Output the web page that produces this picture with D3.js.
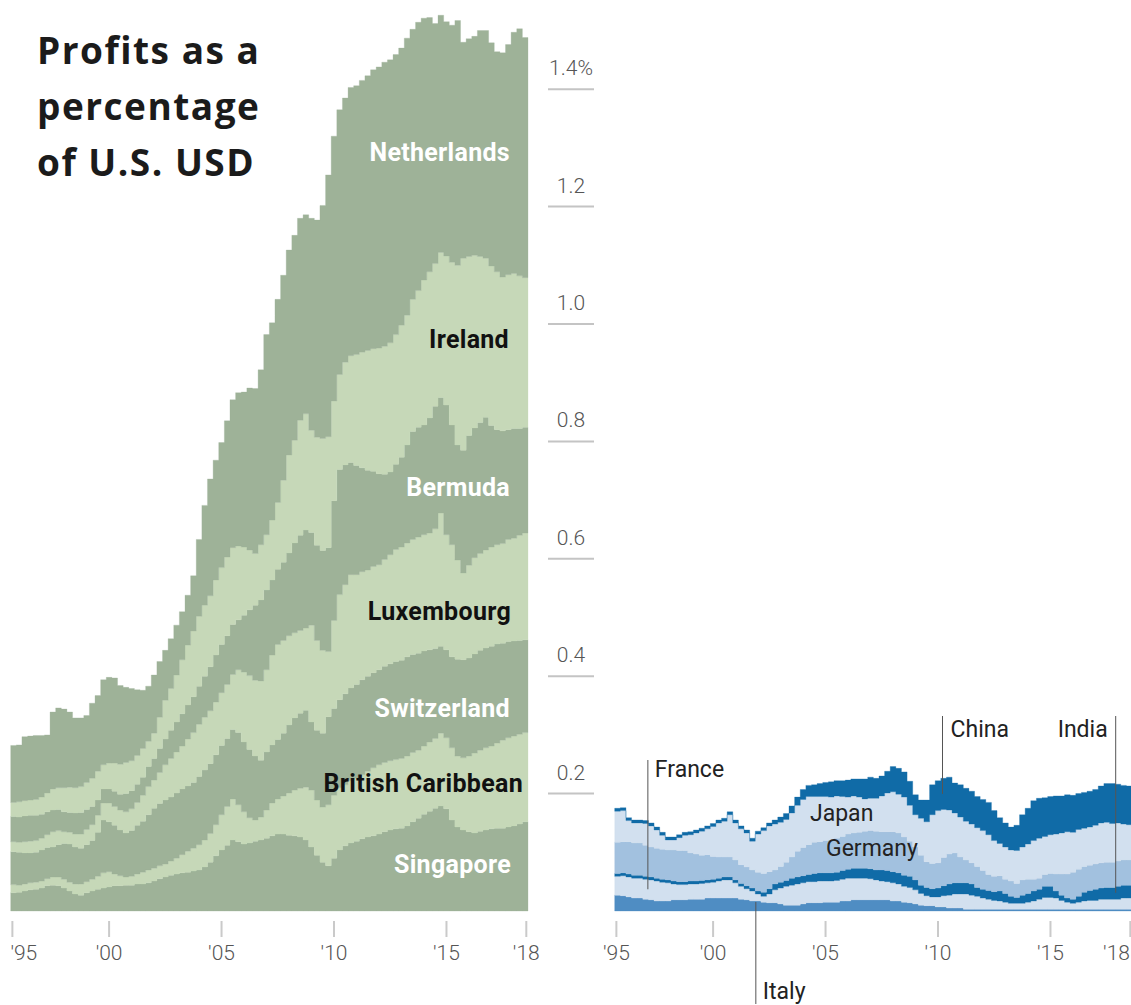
<!DOCTYPE html>
<html>
<head>
<meta charset="utf-8">
<script src="https://cdn.jsdelivr.net/npm/d3@7"></script>
<style>
  body { margin: 0; background: #fff; }
  svg { display: block; }
</style>
</head>
<body>
<svg id="chart" width="1131" height="1005"></svg>
<script>
// quarterly readings, mid 1995 to mid 2018, % of U.S. GDP
const firstQuarter = 1995.625;
const quarterCount = 92;
const lastQuarter = firstQuarter + quarterCount * 0.25;
const quarters = d3.range(quarterCount).map(k => firstQuarter + k * 0.25);

const havenNames = ["Singapore", "British Caribbean", "Switzerland", "Luxembourg", "Bermuda", "Ireland", "Netherlands"];
const countryNames = ["Italy", "France", "India", "Germany", "Japan", "China"];

const yTicks = [0.2, 0.4, 0.6, 0.8, 1.0, 1.2, 1.4];
const xTickYears = [1995.7, 2000, 2005, 2010, 2015, 2018.55];
const xTickLabels = ["'95", "'00", "'05", "'10", "'15", "'18"];

const singapore = [
  0.031, 0.032, 0.034, 0.036, 0.037, 0.039, 0.043, 0.044, 0.043, 0.039, 0.034, 0.029,
  0.027, 0.031, 0.034, 0.037, 0.039, 0.041, 0.043, 0.043, 0.044, 0.044, 0.046, 0.046,
  0.048, 0.051, 0.055, 0.058, 0.061, 0.063, 0.065, 0.066, 0.068, 0.070, 0.075, 0.083,
  0.094, 0.104, 0.112, 0.121, 0.118, 0.114, 0.116, 0.119, 0.121, 0.124, 0.128, 0.131,
  0.131, 0.129, 0.128, 0.126, 0.121, 0.109, 0.095, 0.083, 0.077, 0.090, 0.104, 0.111,
  0.116, 0.119, 0.123, 0.126, 0.128, 0.131, 0.135, 0.138, 0.140, 0.141, 0.145, 0.152,
  0.158, 0.165, 0.170, 0.175, 0.179, 0.174, 0.155, 0.143, 0.138, 0.135, 0.133, 0.136,
  0.138, 0.140, 0.141, 0.141, 0.143, 0.145, 0.148, 0.152
];
const britishCaribbean = [
  0.014, 0.012, 0.012, 0.012, 0.012, 0.012, 0.012, 0.014, 0.015, 0.015, 0.015, 0.017,
  0.019, 0.019, 0.020, 0.022, 0.026, 0.026, 0.020, 0.017, 0.014, 0.015, 0.017, 0.020,
  0.022, 0.022, 0.022, 0.022, 0.024, 0.027, 0.031, 0.036, 0.039, 0.043, 0.046, 0.049,
  0.053, 0.060, 0.066, 0.070, 0.063, 0.055, 0.043, 0.036, 0.039, 0.048, 0.056, 0.060,
  0.065, 0.072, 0.078, 0.083, 0.090, 0.097, 0.094, 0.094, 0.104, 0.107, 0.106, 0.104,
  0.106, 0.107, 0.109, 0.112, 0.116, 0.118, 0.118, 0.118, 0.118, 0.119, 0.119, 0.118,
  0.116, 0.116, 0.118, 0.119, 0.124, 0.121, 0.123, 0.121, 0.123, 0.129, 0.136, 0.138,
  0.140, 0.141, 0.145, 0.150, 0.152, 0.153, 0.153, 0.152
];
const switzerland = [
  0.056, 0.056, 0.053, 0.051, 0.051, 0.053, 0.053, 0.051, 0.055, 0.061, 0.065, 0.063,
  0.061, 0.063, 0.066, 0.075, 0.090, 0.085, 0.083, 0.078, 0.075, 0.078, 0.083, 0.087,
  0.094, 0.102, 0.106, 0.109, 0.109, 0.111, 0.112, 0.111, 0.112, 0.116, 0.119, 0.119,
  0.119, 0.118, 0.116, 0.118, 0.123, 0.119, 0.116, 0.109, 0.097, 0.099, 0.099, 0.101,
  0.107, 0.116, 0.123, 0.128, 0.131, 0.116, 0.119, 0.126, 0.150, 0.148, 0.150, 0.155,
  0.158, 0.160, 0.162, 0.162, 0.162, 0.162, 0.164, 0.165, 0.167, 0.167, 0.169, 0.167,
  0.165, 0.162, 0.157, 0.153, 0.148, 0.150, 0.155, 0.165, 0.167, 0.167, 0.169, 0.170,
  0.170, 0.170, 0.169, 0.165, 0.164, 0.162, 0.160, 0.158
];
const luxembourg = [
  0.017, 0.017, 0.019, 0.020, 0.020, 0.020, 0.022, 0.026, 0.024, 0.020, 0.020, 0.022,
  0.024, 0.026, 0.027, 0.029, 0.029, 0.032, 0.032, 0.034, 0.036, 0.037, 0.039, 0.044,
  0.048, 0.048, 0.053, 0.060, 0.066, 0.070, 0.073, 0.080, 0.085, 0.089, 0.090, 0.090,
  0.090, 0.090, 0.092, 0.094, 0.107, 0.119, 0.126, 0.129, 0.135, 0.140, 0.153, 0.162,
  0.158, 0.152, 0.145, 0.141, 0.140, 0.165, 0.153, 0.141, 0.111, 0.150, 0.179, 0.186,
  0.193, 0.187, 0.184, 0.181, 0.181, 0.179, 0.182, 0.186, 0.191, 0.193, 0.194, 0.196,
  0.198, 0.198, 0.199, 0.204, 0.227, 0.196, 0.191, 0.169, 0.148, 0.158, 0.164, 0.165,
  0.167, 0.169, 0.169, 0.170, 0.174, 0.175, 0.179, 0.182
];
const bermuda = [
  0.043, 0.043, 0.044, 0.044, 0.043, 0.041, 0.039, 0.037, 0.036, 0.034, 0.034, 0.036,
  0.037, 0.034, 0.031, 0.026, 0.024, 0.024, 0.026, 0.027, 0.031, 0.031, 0.031, 0.031,
  0.034, 0.037, 0.041, 0.044, 0.048, 0.051, 0.055, 0.058, 0.061, 0.065, 0.070, 0.075,
  0.080, 0.082, 0.083, 0.085, 0.085, 0.097, 0.112, 0.128, 0.138, 0.136, 0.128, 0.128,
  0.133, 0.141, 0.153, 0.162, 0.167, 0.158, 0.162, 0.170, 0.177, 0.204, 0.213, 0.204,
  0.191, 0.186, 0.177, 0.170, 0.162, 0.155, 0.145, 0.141, 0.145, 0.153, 0.167, 0.184,
  0.187, 0.187, 0.196, 0.209, 0.197, 0.221, 0.204, 0.196, 0.209, 0.221, 0.221, 0.223,
  0.226, 0.207, 0.196, 0.192, 0.187, 0.187, 0.182, 0.180
];
const ireland = [
  0.024, 0.026, 0.026, 0.026, 0.027, 0.029, 0.032, 0.036, 0.037, 0.041, 0.043, 0.043,
  0.044, 0.046, 0.048, 0.049, 0.041, 0.044, 0.048, 0.051, 0.053, 0.051, 0.049, 0.049,
  0.043, 0.043, 0.053, 0.066, 0.071, 0.080, 0.092, 0.102, 0.112, 0.119, 0.121, 0.121,
  0.128, 0.131, 0.134, 0.131, 0.126, 0.116, 0.102, 0.088, 0.094, 0.094, 0.102, 0.114,
  0.140, 0.167, 0.175, 0.196, 0.198, 0.174, 0.184, 0.191, 0.189, 0.170, 0.162, 0.175,
  0.182, 0.189, 0.197, 0.204, 0.209, 0.214, 0.218, 0.220, 0.221, 0.225, 0.221, 0.225,
  0.233, 0.247, 0.249, 0.243, 0.247, 0.254, 0.277, 0.306, 0.327, 0.305, 0.294, 0.283,
  0.271, 0.272, 0.269, 0.262, 0.264, 0.264, 0.260, 0.255
];
const netherlands = [
  0.097, 0.097, 0.109, 0.109, 0.109, 0.105, 0.099, 0.131, 0.136, 0.134, 0.128, 0.119,
  0.117, 0.114, 0.128, 0.129, 0.145, 0.146, 0.145, 0.134, 0.128, 0.123, 0.112, 0.099,
  0.094, 0.099, 0.095, 0.085, 0.085, 0.085, 0.082, 0.085, 0.094, 0.131, 0.170, 0.199,
  0.204, 0.213, 0.232, 0.252, 0.261, 0.264, 0.276, 0.281, 0.298, 0.341, 0.336, 0.346,
  0.349, 0.349, 0.349, 0.344, 0.339, 0.361, 0.370, 0.397, 0.446, 0.451, 0.451, 0.450,
  0.457, 0.458, 0.463, 0.468, 0.475, 0.479, 0.484, 0.482, 0.477, 0.472, 0.472, 0.460,
  0.457, 0.446, 0.433, 0.409, 0.404, 0.399, 0.404, 0.417, 0.368, 0.371, 0.373, 0.385,
  0.388, 0.380, 0.375, 0.382, 0.392, 0.411, 0.421, 0.409
];

const italy = [
  0.027, 0.026, 0.024, 0.022, 0.022, 0.020, 0.019, 0.017, 0.017, 0.017, 0.019, 0.019,
  0.019, 0.020, 0.020, 0.020, 0.022, 0.022, 0.022, 0.022, 0.022, 0.022, 0.020, 0.019,
  0.017, 0.017, 0.015, 0.014, 0.014, 0.012, 0.010, 0.010, 0.010, 0.012, 0.014, 0.014,
  0.014, 0.015, 0.015, 0.015, 0.017, 0.017, 0.019, 0.019, 0.019, 0.019, 0.019, 0.019,
  0.019, 0.017, 0.017, 0.015, 0.014, 0.012, 0.010, 0.009, 0.009, 0.007, 0.007, 0.005,
  0.005, 0.005, 0.003, 0.003, 0.003, 0.003, 0.003, 0.003, 0.003, 0.003, 0.003, 0.003,
  0.003, 0.003, 0.003, 0.003, 0.003, 0.003, 0.003, 0.003, 0.003, 0.003, 0.003, 0.003,
  0.003, 0.003, 0.003, 0.003, 0.003, 0.003, 0.003, 0.003
];
const france = [
  0.032, 0.034, 0.034, 0.034, 0.034, 0.034, 0.034, 0.034, 0.032, 0.031, 0.027, 0.026,
  0.026, 0.026, 0.026, 0.027, 0.026, 0.027, 0.029, 0.031, 0.031, 0.026, 0.022, 0.019,
  0.017, 0.012, 0.010, 0.015, 0.022, 0.027, 0.032, 0.034, 0.036, 0.036, 0.036, 0.036,
  0.037, 0.036, 0.036, 0.037, 0.037, 0.039, 0.037, 0.037, 0.037, 0.036, 0.034, 0.032,
  0.031, 0.031, 0.029, 0.027, 0.026, 0.024, 0.020, 0.017, 0.015, 0.017, 0.019, 0.022,
  0.024, 0.024, 0.026, 0.024, 0.022, 0.019, 0.017, 0.015, 0.014, 0.012, 0.010, 0.010,
  0.010, 0.012, 0.014, 0.017, 0.020, 0.020, 0.019, 0.015, 0.012, 0.010, 0.012, 0.014,
  0.015, 0.015, 0.017, 0.017, 0.017, 0.017, 0.019, 0.019
];
const india = [
  0.005, 0.005, 0.005, 0.005, 0.005, 0.005, 0.005, 0.005, 0.005, 0.005, 0.005, 0.005,
  0.005, 0.005, 0.005, 0.005, 0.005, 0.005, 0.005, 0.005, 0.005, 0.005, 0.005, 0.005,
  0.005, 0.005, 0.007, 0.009, 0.010, 0.010, 0.010, 0.012, 0.012, 0.012, 0.012, 0.014,
  0.014, 0.014, 0.014, 0.014, 0.015, 0.015, 0.017, 0.017, 0.017, 0.017, 0.017, 0.019,
  0.019, 0.019, 0.019, 0.019, 0.019, 0.017, 0.014, 0.014, 0.014, 0.015, 0.017, 0.019,
  0.019, 0.019, 0.019, 0.019, 0.015, 0.015, 0.015, 0.015, 0.017, 0.015, 0.012, 0.010,
  0.014, 0.015, 0.017, 0.017, 0.019, 0.019, 0.012, 0.009, 0.007, 0.007, 0.010, 0.015,
  0.017, 0.019, 0.019, 0.020, 0.020, 0.022, 0.022, 0.022
];
const germany = [
  0.053, 0.053, 0.055, 0.055, 0.055, 0.053, 0.051, 0.051, 0.051, 0.051, 0.053, 0.053,
  0.053, 0.048, 0.046, 0.043, 0.043, 0.039, 0.036, 0.034, 0.034, 0.034, 0.032, 0.032,
  0.031, 0.032, 0.032, 0.029, 0.024, 0.027, 0.031, 0.036, 0.044, 0.048, 0.051, 0.053,
  0.053, 0.055, 0.056, 0.058, 0.058, 0.060, 0.060, 0.061, 0.063, 0.065, 0.066, 0.065,
  0.066, 0.068, 0.068, 0.065, 0.060, 0.056, 0.051, 0.044, 0.043, 0.043, 0.048, 0.051,
  0.051, 0.044, 0.039, 0.036, 0.036, 0.032, 0.027, 0.026, 0.026, 0.024, 0.026, 0.024,
  0.026, 0.024, 0.020, 0.019, 0.020, 0.022, 0.029, 0.036, 0.041, 0.046, 0.046, 0.044,
  0.043, 0.043, 0.043, 0.043, 0.043, 0.043, 0.043, 0.043
];
const japan = [
  0.053, 0.053, 0.036, 0.034, 0.034, 0.037, 0.036, 0.031, 0.024, 0.017, 0.017, 0.022,
  0.026, 0.031, 0.036, 0.041, 0.044, 0.051, 0.058, 0.061, 0.072, 0.063, 0.061, 0.058,
  0.049, 0.065, 0.073, 0.078, 0.078, 0.075, 0.073, 0.075, 0.078, 0.082, 0.082, 0.078,
  0.077, 0.075, 0.073, 0.072, 0.068, 0.063, 0.063, 0.060, 0.055, 0.055, 0.056, 0.061,
  0.066, 0.068, 0.066, 0.068, 0.061, 0.055, 0.063, 0.068, 0.083, 0.089, 0.082, 0.075,
  0.068, 0.068, 0.066, 0.066, 0.066, 0.068, 0.068, 0.061, 0.055, 0.055, 0.053, 0.056,
  0.056, 0.060, 0.066, 0.068, 0.065, 0.066, 0.068, 0.070, 0.072, 0.068, 0.068, 0.065,
  0.065, 0.066, 0.068, 0.068, 0.066, 0.065, 0.061, 0.060
];
const china = [
  0.005, 0.005, 0.005, 0.005, 0.005, 0.005, 0.005, 0.005, 0.005, 0.005, 0.005, 0.005,
  0.005, 0.005, 0.005, 0.005, 0.005, 0.005, 0.005, 0.005, 0.005, 0.005, 0.005, 0.005,
  0.005, 0.005, 0.005, 0.005, 0.007, 0.009, 0.010, 0.012, 0.014, 0.017, 0.019, 0.020,
  0.022, 0.024, 0.026, 0.026, 0.027, 0.029, 0.029, 0.031, 0.034, 0.036, 0.034, 0.034,
  0.037, 0.043, 0.044, 0.043, 0.041, 0.034, 0.031, 0.037, 0.051, 0.051, 0.053, 0.056,
  0.051, 0.055, 0.056, 0.056, 0.053, 0.053, 0.055, 0.051, 0.044, 0.041, 0.039, 0.043,
  0.055, 0.061, 0.068, 0.068, 0.066, 0.065, 0.065, 0.063, 0.063, 0.063, 0.061, 0.061,
  0.061, 0.061, 0.063, 0.066, 0.068, 0.066, 0.066, 0.066
];

const havenSeries = [singapore, britishCaribbean, switzerland, luxembourg, bermuda, ireland, netherlands];
const countrySeries = [italy, france, india, germany, japan, china];

// ---- layout
const width = 1131;
const darkGreen = "#9eb298", lightGreen = "#c6d8b8";
const havenColors = [darkGreen, lightGreen, darkGreen, lightGreen, darkGreen, lightGreen, darkGreen];
const countryColors = ["#4f8dc3", "#d2e0ef", "#106ba7", "#a2c1df", "#d2e0ef", "#106ba7"];

const svg = d3.select("#chart");
const baseline = 911;

const y = d3.scaleLinear().domain([0, 1.4]).range([baseline, baseline - 1.4 * 587]);
const xLeft = d3.scaleLinear().domain([firstQuarter, lastQuarter]).range([10.7, 528]);
const xRight = d3.scaleLinear().domain([firstQuarter, lastQuarter]).range([614.7, 1132]);

function buildRows(names, series) {
  const rows = quarters.map((q, i) => {
    const row = { date: q };
    names.forEach((n, j) => { row[n] = series[j][i]; });
    return row;
  });
  // closing point so the last quarter gets its step
  rows.push(Object.assign({}, rows[rows.length - 1], { date: lastQuarter }));
  return rows;
}

function drawStack(names, series, colors, x) {
  const layers = d3.stack().keys(names)(buildRows(names, series));
  const area = d3.area()
    .curve(d3.curveStepAfter)
    .x(d => x(d.data.date))
    .y0(d => y(d[0]))
    .y1(d => y(d[1]));
  svg.append("g")
    .selectAll("path")
    .data(layers)
    .join("path")
    .attr("d", area)
    .attr("fill", (d, i) => colors[i])
    .attr("stroke", (d, i) => colors[i])
    .attr("stroke-width", 0.3);
  return layers;
}

const havenLayers = drawStack(havenNames, havenSeries, havenColors, xLeft);
const countryLayers = drawStack(countryNames, countrySeries, countryColors, xRight);

// ---- title
svg.append("text")
  .attr("font-family", "Open Sans")
  .attr("font-weight", 700)
  .attr("font-size", 37)
  .attr("letter-spacing", 1.5)
  .attr("fill", "#1b1b1b")
  .selectAll("tspan")
  .data(["Profits as a", "percentage", "of U.S. USD"])
  .join("tspan")
  .attr("x", 37)
  .attr("y", (d, i) => 64 + i * 56)
  .text(d => d);

// ---- y axis between the two panels
const yAxis = svg.append("g");
yAxis.selectAll("line")
  .data(yTicks)
  .join("line")
  .attr("x1", 548).attr("x2", 594)
  .attr("y1", d => y(d)).attr("y2", d => y(d))
  .attr("stroke", "#c4c4c4")
  .attr("stroke-width", 2);
yAxis.selectAll("text")
  .data(yTicks)
  .join("text")
  .attr("x", 571)
  .attr("y", d => y(d) - 14)
  .attr("text-anchor", "middle")
  .attr("font-family", "Roboto")
  .attr("font-weight", 300)
  .attr("font-size", 21)
  .attr("fill", "#555")
  .text(d => d === 1.4 ? "1.4%" : d3.format(".1f")(d));

// ---- x axes
function drawXAxis(x) {
  const g = svg.append("g");
  g.selectAll("line")
    .data(xTickYears)
    .join("line")
    .attr("x1", d => x(d)).attr("x2", d => x(d))
    .attr("y1", 921).attr("y2", 937)
    .attr("stroke", "#cacaca")
    .attr("stroke-width", 2);
  g.selectAll("text")
    .data(xTickYears)
    .join("text")
    .attr("y", 960)
    .attr("font-family", "Roboto")
    .attr("font-weight", 300)
    .attr("font-size", 21)
    .attr("fill", "#555")
    .text((d, i) => xTickLabels[i])
    .each(function(d) {
      // keep labels inside the page: pin to the edge when centring would overflow
      const t = d3.select(this);
      const w = this.getComputedTextLength();
      const cx = x(d);
      if (cx - w / 2 < 0) t.attr("x", cx - 2).attr("text-anchor", "start");
      else if (cx + w / 2 > width) t.attr("x", width - 1).attr("text-anchor", "end");
      else t.attr("x", cx).attr("text-anchor", "middle");
    });
}
drawXAxis(xLeft);
drawXAxis(xRight);

// ---- labels on the left panel
const havenLabelLayout = [
  { name: "Singapore", x: 511, y: 873, color: "#fff" },
  { name: "British Caribbean", x: 523, y: 792, color: "#111" },
  { name: "Switzerland", x: 510, y: 717, color: "#fff" },
  { name: "Luxembourg", x: 511, y: 620, color: "#111" },
  { name: "Bermuda", x: 510, y: 496, color: "#fff" },
  { name: "Ireland", x: 509, y: 348, color: "#111" },
  { name: "Netherlands", x: 510, y: 161, color: "#fff" }
];
svg.append("g")
  .selectAll("text")
  .data(havenLabelLayout)
  .join("text")
  .attr("x", d => d.x)
  .attr("y", d => d.y)
  .attr("text-anchor", "end")
  .attr("font-family", "Roboto")
  .attr("font-weight", 700)
  .attr("font-size", 25)
  .attr("letter-spacing", 0.3)
  .attr("fill", d => d.color)
  .text(d => d.name);

// ---- labels on the right panel
function layerMid(name, year) {
  const layer = countryLayers.find(l => l.key === name);
  const i = Math.min(quarterCount - 1, Math.floor((year - firstQuarter) / 0.25));
  return y((layer[i][0] + layer[i][1]) / 2);
}

const leaders = [
  { name: "France", year: 1997.1, top: 760, labelX: 7, labelY: 777, anchor: "start" },
  { name: "China", year: 2010.2, top: 716, labelX: 8, labelY: 737, anchor: "start" },
  { name: "India", year: 2017.9, top: 716, labelX: -8, labelY: 737, anchor: "end" },
  { name: "Italy", year: 2001.9, top: 1004, labelX: 7, labelY: 999, anchor: "start" }
];
const notes = svg.append("g");
leaders.forEach(d => {
  const lx = xRight(d.year);
  const mid = layerMid(d.name, d.year);
  notes.append("line")
    .attr("x1", lx).attr("x2", lx)
    .attr("y1", d.top).attr("y2", d.name === "Italy" ? mid - 4 : mid)
    .attr("stroke", "#555")
    .attr("stroke-width", 1);
  notes.append("text")
    .attr("x", lx + d.labelX)
    .attr("y", d.labelY)
    .attr("text-anchor", d.anchor)
    .attr("font-family", "Roboto")
    .attr("font-size", 23)
    .attr("fill", "#222")
    .text(d.name);
});
[
  { name: "Japan", x: 810, y: 821 },
  { name: "Germany", x: 826, y: 856 }
].forEach(d => {
  notes.append("text")
    .attr("x", d.x)
    .attr("y", d.y)
    .attr("font-family", "Roboto")
    .attr("font-size", 23)
    .attr("fill", "#222")
    .text(d.name);
});
</script>
</body>
</html>
